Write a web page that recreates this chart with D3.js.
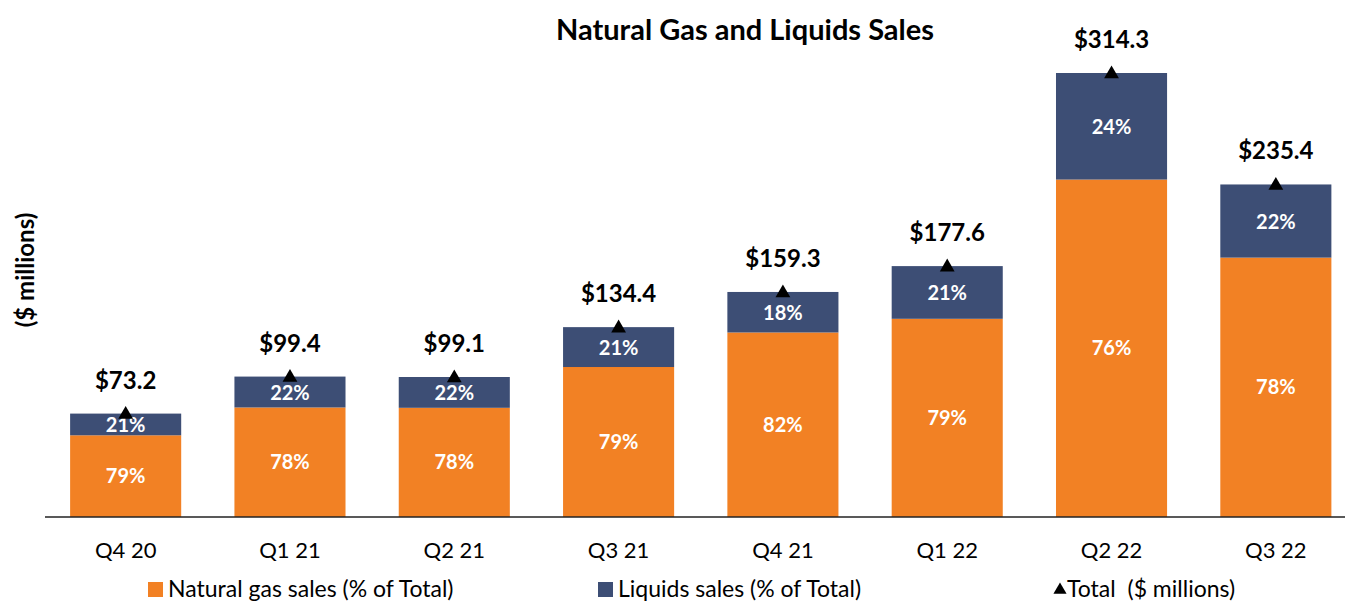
<!DOCTYPE html>
<html>
<head>
<meta charset="utf-8">
<script src="https://cdn.jsdelivr.net/npm/d3@7"></script>
<style>
  body { margin: 0; background: #fff; }
  svg { display: block; font-family: Lato, "Open Sans", sans-serif; }
</style>
</head>
<body>
<div id="chart"></div>
<script>
var quarters = ["Q4 20", "Q1 21", "Q2 21", "Q3 21", "Q4 21", "Q1 22", "Q2 22", "Q3 22"];
var totals = [73.2, 99.4, 99.1, 134.4, 159.3, 177.6, 314.3, 235.4];
var gasPct = [79, 78, 78, 79, 82, 79, 76, 78];
var liquidsPct = [21, 22, 22, 21, 18, 21, 24, 22];
var legendLabels = ["Natural gas sales (% of Total)", "Liquids sales (% of Total)", "Total  ($ millions)"];

var width = 1345, height = 604;
var orange = "#f28124", navy = "#3d4e75";

var svg = d3.select("#chart").append("svg")
  .attr("width", width)
  .attr("height", height);

var x = d3.scaleBand()
  .domain(quarters)
  .range([43.5, 1358])
  .paddingInner(0.324)
  .paddingOuter(0.162);

var y = d3.scaleLinear()
  .domain([0, 314.3])
  .range([517, 73]);

var rows = quarters.map(function(q, i) {
  return {q: q, total: totals[i], gas: gasPct[i], liq: liquidsPct[i],
          gasVal: totals[i] * gasPct[i] / (gasPct[i] + liquidsPct[i])};
});

// title
svg.append("text")
  .attr("x", 745).attr("y", 40)
  .attr("text-anchor", "middle")
  .style("font-size", "29px").style("font-weight", "bold")
  .text("Natural Gas and Liquids Sales");

// y label
svg.append("text")
  .attr("transform", "translate(34,270) rotate(-90)")
  .attr("text-anchor", "middle")
  .style("font-size", "24px").style("font-weight", "bold")
  .text("($ millions)");

var g = svg.selectAll(".bar").data(rows).enter().append("g");

// gas segment
g.append("rect")
  .attr("x", function(d) { return x(d.q); })
  .attr("width", x.bandwidth())
  .attr("y", function(d) { return y(d.gasVal); })
  .attr("height", function(d) { return y(0) - y(d.gasVal); })
  .attr("fill", orange);

// liquids segment
g.append("rect")
  .attr("x", function(d) { return x(d.q); })
  .attr("width", x.bandwidth())
  .attr("y", function(d) { return y(d.total); })
  .attr("height", function(d) { return y(d.gasVal) - y(d.total); })
  .attr("fill", navy);

g.append("text")
  .attr("x", function(d) { return x(d.q) + x.bandwidth() / 2; })
  .attr("y", function(d) { return (y(0) + y(d.gasVal)) / 2; })
  .attr("dy", "0.35em")
  .attr("text-anchor", "middle")
  .attr("fill", "#fff")
  .style("font-size", "20px").style("font-weight", "bold")
  .text(function(d) { return d.gas + "%"; });

g.append("text")
  .attr("x", function(d) { return x(d.q) + x.bandwidth() / 2; })
  .attr("y", function(d) { return (y(d.gasVal) + y(d.total)) / 2 + 1; })
  .attr("dy", "0.35em")
  .attr("text-anchor", "middle")
  .attr("fill", "#fff")
  .style("font-size", "20px").style("font-weight", "bold")
  .text(function(d) { return d.liq + "%"; });

// total markers
var tri = d3.symbol().type(d3.symbolTriangle).size(95);
g.append("path")
  .attr("d", tri)
  .attr("transform", function(d) { return "translate(" + (x(d.q) + x.bandwidth() / 2) + "," + (y(d.total) + 1) + ")"; })
  .attr("fill", "#000");

g.append("text")
  .attr("x", function(d) { return x(d.q) + x.bandwidth() / 2; })
  .attr("y", function(d) { return y(d.total) - 25; })
  .attr("text-anchor", "middle")
  .style("font-size", "24px").style("font-weight", "bold")
  .text(function(d) { return "$" + d.total.toFixed(1); });

// baseline + category labels
svg.append("line")
  .attr("x1", 45).attr("x2", 1345)
  .attr("y1", y(0)).attr("y2", y(0))
  .attr("stroke", "#222").attr("stroke-width", 1.5);

svg.selectAll(".cat").data(quarters).enter().append("text")
  .attr("x", function(d) { return x(d) + x.bandwidth() / 2; })
  .attr("y", 558)
  .attr("text-anchor", "middle")
  .style("font-size", "22px")
  .text(function(d) { return d; });

// legend
var legX = [148, 598, 1054];
var leg = svg.selectAll(".leg").data(legendLabels).enter().append("g")
  .attr("transform", function(d, i) { return "translate(" + legX[i] + ",589)"; });
leg.each(function(d, i) {
  var el = d3.select(this);
  if (i < 2) {
    el.append("rect").attr("x", 0).attr("y", -7).attr("width", 15).attr("height", 15)
      .attr("fill", i === 0 ? orange : navy);
  } else {
    el.append("path").attr("d", d3.symbol().type(d3.symbolTriangle).size(75))
      .attr("transform", "translate(6,1)").attr("fill", "#000");
  }
  el.append("text")
    .attr("x", i < 2 ? 20 : 13).attr("y", 0).attr("dy", "0.35em")
    .style("font-size", "23px").style("white-space", "pre")
    .text(d);
});
</script>
</body>
</html>
